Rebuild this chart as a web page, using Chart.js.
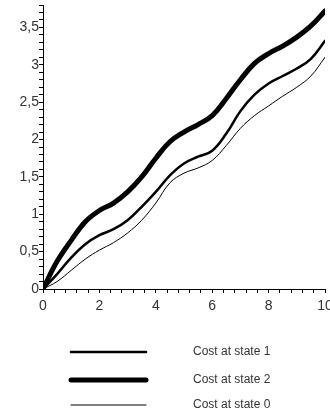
<!DOCTYPE html>
<html>
<head>
<meta charset="UTF-8">
<script src="https://cdn.jsdelivr.net/npm/chart.js"></script>
<style>
  body { margin: 0; background: #fff; }
  #wrap { width: 330px; height: 420px; }
</style>
</head>
<body>
<div id="wrap"><canvas id="c" width="330" height="420"></canvas></div>
<script>
const xs = [0, 0.5, 1, 1.5, 2, 2.5, 3, 3.5, 4, 4.5, 5, 5.5, 6, 6.5, 7, 7.5, 8, 8.5, 9, 9.5, 10];
const state1 = [0, 0.2, 0.42, 0.6, 0.72, 0.8, 0.92, 1.1, 1.3, 1.52, 1.68, 1.77, 1.85, 2.08, 2.38, 2.6, 2.75, 2.85, 2.95, 3.08, 3.32];
const state2 = [0, 0.37, 0.65, 0.9, 1.05, 1.15, 1.3, 1.5, 1.75, 1.97, 2.1, 2.2, 2.32, 2.55, 2.8, 3.02, 3.15, 3.25, 3.37, 3.52, 3.72];
const state0 = [0, 0.1, 0.25, 0.4, 0.52, 0.62, 0.75, 0.92, 1.15, 1.42, 1.55, 1.62, 1.72, 1.92, 2.15, 2.32, 2.45, 2.58, 2.7, 2.85, 3.1];
const seriesNames = ['Cost at state 1', 'Cost at state 2', 'Cost at state 0'];

const toPts = arr => arr.map((v, i) => ({ x: xs[i], y: v }));
const near = (v, step) => Math.abs(v / step - Math.round(v / step)) < 1e-6;
const tickFont = { family: '"Liberation Sans", Arial, sans-serif', size: 14 };

// legend drawn as a vertical list under the plot
const sideLegend = {
  id: 'sideLegend',
  afterDraw(chart) {
    const ctx = chart.ctx;
    const rows = [352, 380, 405];
    ctx.save();
    chart.data.datasets.forEach((ds, i) => {
      ctx.beginPath();
      ctx.lineWidth = ds.borderWidth;
      ctx.lineCap = 'round';
      ctx.strokeStyle = ds.borderColor;
      ctx.moveTo(71, rows[i]);
      ctx.lineTo(146, rows[i]);
      ctx.stroke();
      ctx.fillStyle = '#333';
      ctx.font = '12px "Liberation Sans", Arial, sans-serif';
      ctx.textBaseline = 'middle';
      ctx.fillText(ds.label, 193, rows[i]);
    });
    ctx.restore();
  }
};

new Chart(document.getElementById('c'), {
  type: 'line',
  data: {
    datasets: [
      { label: seriesNames[0], data: toPts(state1), borderColor: '#000', borderWidth: 2.5 },
      { label: seriesNames[1], data: toPts(state2), borderColor: '#000', borderWidth: 5 },
      { label: seriesNames[2], data: toPts(state0), borderColor: '#000', borderWidth: 1 }
    ]
  },
  options: {
    responsive: false,
    animation: false,
    layout: { padding: { left: 0, right: 5, top: 5, bottom: 101 } },
    elements: { point: { radius: 0 }, line: { tension: 0.4, borderCapStyle: 'round' } },
    plugins: { legend: { display: false }, tooltip: { enabled: false } },
    scales: {
      x: {
        type: 'linear', min: 0, max: 10,
        afterFit(s) { s.height = 30; s.paddingRight = 0; s.paddingLeft = 0; },
        border: { display: true, color: '#000', width: 1 },
        grid: { drawOnChartArea: false, drawTicks: true, tickLength: 4, color: '#000' },
        ticks: {
          stepSize: 0.4, autoSkip: false, maxRotation: 0, padding: 5,
          color: '#333', font: tickFont,
          callback: v => near(v, 2) ? String(Math.round(v)) : ''
        }
      },
      y: {
        min: 0, max: 3.8,
        afterFit(s) { s.width = 43; s.paddingTop = 0; s.paddingBottom = 0; },
        border: { display: true, color: '#000', width: 1 },
        grid: { drawOnChartArea: false, drawTicks: true, tickLength: 4, color: '#000' },
        ticks: {
          stepSize: 0.1, autoSkip: false, padding: 0,
          color: '#333', font: tickFont,
          callback: v => near(v, 0.5) ? String(Math.round(v * 10) / 10).replace('.', ',') : ''
        }
      }
    }
  },
  plugins: [sideLegend]
});
</script>
</body>
</html>
